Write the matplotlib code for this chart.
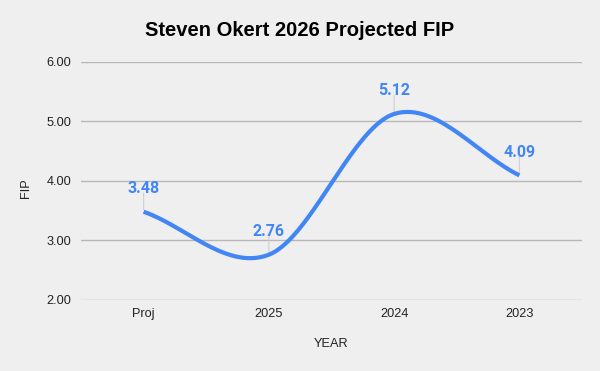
import numpy as np
import matplotlib
matplotlib.use("Agg")
import matplotlib.pyplot as plt

categories = ["Proj", "2025", "2024", "2023"]
fip = [3.48, 2.76, 5.12, 4.09]
labels = ["3.48", "2.76", "5.12", "4.09"]
yticks = [2.0, 3.0, 4.0, 5.0, 6.0]

title = "Steven Okert 2026 Projected FIP"
xlabel = "YEAR"
ylabel = "FIP"

BG = "#efefef"
BLUE = "#4285f4"

fig = plt.figure(figsize=(6.0, 3.71), dpi=100, facecolor=BG)
ax = fig.add_axes([81/600, 1 - 300/371, (582-81)/600, (300-61.5)/371])
ax.set_facecolor(BG)

# smooth curve (Catmull-Rom style Hermite interpolation for display)
x = np.arange(len(fip), dtype=float)
y = np.array(fip, dtype=float)
n = len(y)
m = np.zeros(n)
m[0] = y[1] - y[0]
m[-1] = y[-1] - y[-2]
for i in range(1, n - 1):
    m[i] = (y[i + 1] - y[i - 1]) / 2
xs, ys = [], []
for i in range(n - 1):
    t = np.linspace(0, 1, 60)
    h00 = 2*t**3 - 3*t**2 + 1
    h10 = t**3 - 2*t**2 + t
    h01 = -2*t**3 + 3*t**2
    h11 = t**3 - t**2
    xs.append(x[i] + t)
    ys.append(h00*y[i] + h10*m[i] + h01*y[i+1] + h11*m[i+1])
xs = np.concatenate(xs)
ys = np.concatenate(ys)
ax.plot(xs, ys, color=BLUE, lw=3.0, solid_capstyle="butt", zorder=3)

# data labels with leader lines
for xi, yi, lab in zip(x, y, labels):
    ax.annotate("", xy=(xi, yi), xytext=(0, 13.5), textcoords="offset points",
                arrowprops=dict(arrowstyle="-", color="#d0d0d0", lw=0.8,
                                shrinkA=0, shrinkB=1.5), zorder=2)
    ax.annotate(lab, xy=(xi, yi), xytext=(0, 11.3), textcoords="offset points",
                ha="center", va="bottom", color=BLUE, fontsize=11.5,
                fontweight="bold", family="Roboto")

ax.set_xlim(-0.5, 3.5)
ax.set_ylim(2.0, 6.0)
ax.set_yticks(yticks)
ax.set_yticklabels([f"{v:.2f}" for v in yticks])
ax.set_xticks(x)
ax.set_xticklabels(categories)
ax.grid(axis="y", color="#b7b7b7", lw=1.0)
ax.set_axisbelow(True)
for s in ax.spines.values():
    s.set_visible(False)
ax.tick_params(axis="both", length=0, labelsize=9.2, labelcolor="#222222")
ax.tick_params(axis="x", pad=6)
ax.tick_params(axis="y", pad=7)
for lab in ax.get_xticklabels() + ax.get_yticklabels():
    lab.set_family("Liberation Sans")

fig.text(331/600, 1 - 344/371, xlabel, ha="center", va="center",
         fontsize=9.2, family="Liberation Sans", color="#222222")
fig.text(26/600, 1 - 188/371, ylabel, ha="center", va="center", rotation=90,
         fontsize=9.2, family="Liberation Sans", color="#222222")
fig.text(300/600, 1 - 31/371, title, ha="center", va="center",
         fontsize=14.5, fontweight="bold", family="Liberation Sans", color="#000000")

fig.savefig("out.png", dpi=100, facecolor=BG)
